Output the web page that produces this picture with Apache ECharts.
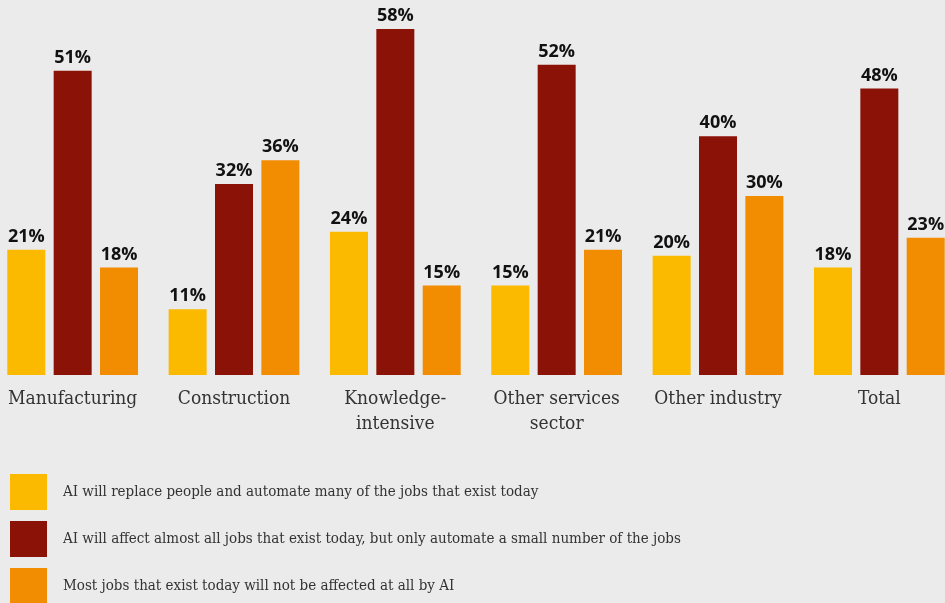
<!DOCTYPE html>
<html>
<head>
<meta charset="utf-8">
<script src="https://cdn.jsdelivr.net/npm/echarts@6/dist/echarts.min.js"></script>
<style>
  html, body { margin: 0; padding: 0; background: #ebebeb; }
  #chart { width: 945px; height: 603px; }
</style>
</head>
<body>
<div id="chart"></div>
<script>
// Sectors shown along the x axis
const categories = ['Manufacturing', 'Construction', 'Knowledge-\nintensive', 'Other services\nsector', 'Other industry', 'Total'];

// Share of respondents (%) per statement
const replaceMany = [21, 11, 24, 15, 20, 18];
const affectAll = [51, 32, 58, 52, 40, 48];
const notAffected = [18, 36, 15, 21, 30, 23];

const seriesNames = [
  'AI will replace people and automate many of the jobs that exist today',
  'AI will affect almost all jobs that exist today, but only automate a small number of the jobs',
  'Most jobs that exist today will not be affected at all by AI'
];

const colors = ['#fbb900', '#8b1207', '#f28c00'];

const serifFont = '"DejaVu Serif Condensed", "DejaVu Serif", serif';

const chart = echarts.init(document.getElementById('chart'));

function barSeries(name, data, color) {
  return {
    name: name,
    type: 'bar',
    data: data,
    barWidth: 38,
    barGap: '22%',
    itemStyle: { color: color },
    label: {
      show: true,
      position: 'top',
      distance: 4,
      formatter: '{c}%',
      color: '#111',
      fontFamily: '"Open Sans", sans-serif',
      fontWeight: 'bold',
      fontSize: 18
    }
  };
}

// One legend block per series, stacked under the chart
function legendRow(name, top) {
  return {
    orient: 'vertical',
    left: 10,
    top: top,
    padding: 0,
    itemWidth: 37,
    itemHeight: 36,
    icon: 'rect',
    selectedMode: false,
    textStyle: {
      color: '#333',
      fontFamily: serifFont,
      fontSize: 15,
      padding: [0, 0, 0, 11]
    },
    data: [name]
  };
}

chart.setOption({
  backgroundColor: '#ebebeb',
  animation: false,
  grid: {
    left: -8,
    width: 968,
    top: 17,
    bottom: 228,
    containLabel: false,
    outerBoundsMode: 'none'
  },
  xAxis: {
    type: 'category',
    data: categories,
    axisLine: { show: false },
    axisTick: { show: false },
    axisLabel: {
      margin: 12,
      color: '#333',
      fontFamily: serifFont,
      fontSize: 19,
      lineHeight: 25,
      interval: 0
    }
  },
  yAxis: {
    type: 'value',
    min: 0,
    max: 60,
    show: false
  },
  legend: [
    legendRow(seriesNames[0], 474),
    legendRow(seriesNames[1], 521),
    legendRow(seriesNames[2], 568)
  ],
  series: [
    barSeries(seriesNames[0], replaceMany, colors[0]),
    barSeries(seriesNames[1], affectAll, colors[1]),
    barSeries(seriesNames[2], notAffected, colors[2])
  ]
});
</script>
</body>
</html>
